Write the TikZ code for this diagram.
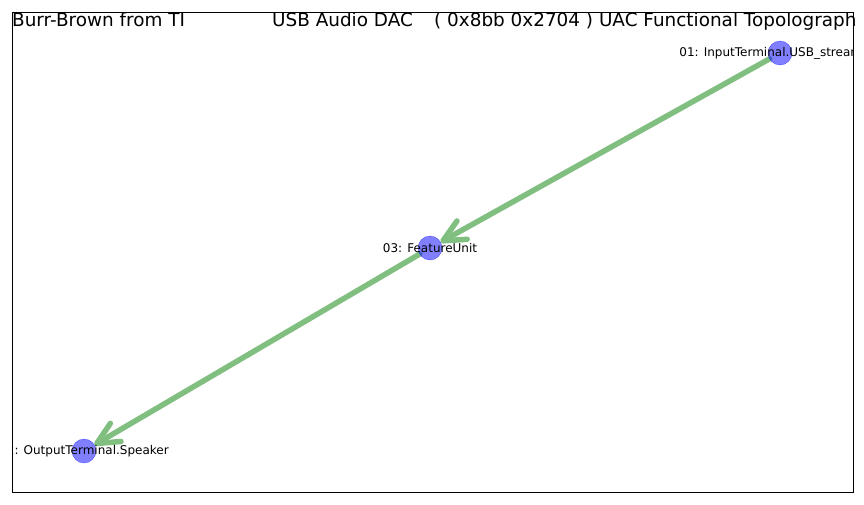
\documentclass[tikz,border=0pt]{standalone}
\usepackage{fontspec}
\setmainfont{DejaVu Sans}
\usepackage{xcolor}
\usepackage{tikz}
\usetikzlibrary{arrows.meta,backgrounds}

\definecolor{edgegreen}{RGB}{128,191,128}

\begin{document}
\begin{tikzpicture}[x=1pt, y=-1pt,
  dot/.style={circle, draw=blue, fill=blue, opacity=0.5, minimum size=24pt, inner sep=0pt, outer sep=0pt},
  lab/.style={font=\fontsize{12pt}{14pt}\selectfont, inner sep=0pt},
  ttl/.style={font=\fontsize{18.4pt}{21pt}\selectfont, inner sep=0pt, anchor=base west},
  edge/.style={-{Straight Barb[length=22pt, width=21pt, round]}, line width=5.5pt, edgegreen, line cap=round}]
\useasboundingbox (0,0) rectangle (864,504);
\node[ttl] (vendor) at (12,26) {Burr-Brown from TI};
\node[ttl] (product) at (272,26) {USB Audio DAC};
\node[ttl] (ids) at (434,26) {( 0x8bb 0x2704 ) UAC Functional Topolograph};
\draw[line width=1pt] (12,12) rectangle (853,492);
% units
\node[dot] (in) at (780,53) {};
\node[dot] (fu) at (430,248) {};
\node[dot] (out) at (84,451) {};
\begin{pgfonlayer}{background}
\draw[edge] (in) -- (fu);
\draw[edge] (fu) -- (out);
\end{pgfonlayer}
\begin{scope}
\clip (12,12) rectangle (853,492);
\node[lab] (inlab) at (in) {01: InputTerminal.USB\_streaming};
\node[lab] (fulab) at (fu) {03: FeatureUnit};
\node[lab] (outlab) at (out) {02: OutputTerminal.Speaker};
\end{scope}
\end{tikzpicture}
\end{document}
